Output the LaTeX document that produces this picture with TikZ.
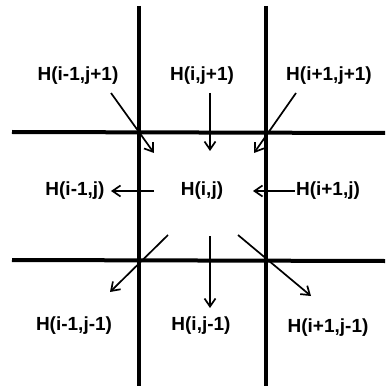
\documentclass[tikz,border=0pt]{standalone}
\usepackage{fontspec}
\setmainfont{Liberation Sans}
\usetikzlibrary{arrows.meta}
\tikzset{wall/.style={line width=4pt},
 lbl/.style={font=\fontsize{19}{21}\selectfont\bfseries,inner sep=1pt},
 flow/.style={-{Straight Barb[length=8pt,width=11pt]},line width=1.7pt}}
\begin{document}
\begin{tikzpicture}[x=1pt,y=-1pt]
\useasboundingbox (0,0) rectangle (385,387);
% cell walls
\draw[wall](139,6)--(139,386);\draw[wall](266,6)--(266,386);
\draw[wall](12,132)--(385,133);\draw[wall](12,260)--(385,261);
% labels
\foreach \n/\x/\y/\t in {nw/78/76/{H(i-1,j+1)},n/202/76/{H(i,j+1)},ne/329/76/{H(i+1,j+1)},
 w/75/191/{H(i-1,j)},c/202/191/{H(i,j)},e/328/191/{H(i+1,j)},
 sw/74/326/{H(i-1,j-1)},s/201/326/{H(i,j-1)},se/328/328/{H(i+1,j-1)}}
 \node[lbl](\n) at (\x,\y){\t};
% arrow ends
\foreach \n/\x/\y in {nwa/111/93,nwb/154/153,na/210/93,nb/210/151,nea/296/93,neb/254/153,
 wa/154/191,wb/111/191,eb/253/191,swa/168/235,swb/110/292,sa/210/236,sb/210/308,
 sea/238/235,seb/311/296}
 \coordinate(\n) at (\x,\y);
\draw[flow](nwa)--(nwb);\draw[flow](na)--(nb);\draw[flow](nea)--(neb);
\draw[flow](wa)--(wb);\draw[flow](e.west)--(eb);
\draw[flow](swa)--(swb);\draw[flow](sa)--(sb);\draw[flow](sea)--(seb);
\end{tikzpicture}
\end{document}
